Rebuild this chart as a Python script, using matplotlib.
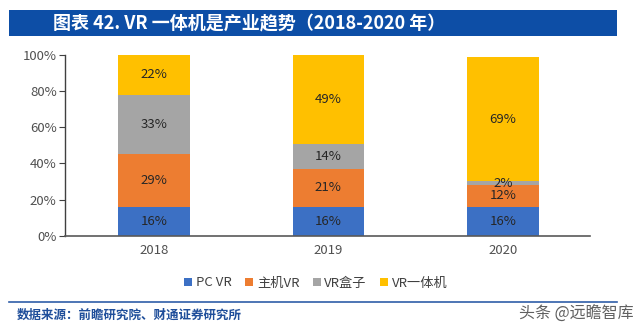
import matplotlib
matplotlib.use("Agg")
import matplotlib.pyplot as plt
from matplotlib.patches import Rectangle, Patch
from matplotlib.lines import Line2D
import numpy as np

plt.rcParams['font.family'] = ['Noto Sans CJK SC', 'DejaVu Sans']

# datos
years = ['2018', '2019', '2020']
series_names = ['PC VR', '主机VR', 'VR盒子', 'VR一体机']
pc_vr = [16, 16, 16]
zhuji_vr = [29, 21, 12]
vr_hezi = [33, 14, 2]
vr_yitiji = [22, 49, 69]
colors = ['#3C70C4', '#ED7D31', '#A5A5A5', '#FFC000']
yticks = [0, 20, 40, 60, 80, 100]

W, H = 640, 331
fig = plt.figure(figsize=(W / 100, H / 100), dpi=100)
fig.patch.set_facecolor('white')

# banda del titulo
fig.patches.append(Rectangle((9 / W, 1 - 36 / H), (617 - 9) / W, 26 / H,
                             transform=fig.transFigure, facecolor='#0D4EA6',
                             edgecolor='none', zorder=0))
fig.text(53 / W, 1 - 23.5 / H, '图表 42. VR 一体机是产业趋势（2018-2020 年）',
         color='white', fontsize=13, fontweight='bold', va='center', ha='left')

ax = fig.add_axes([65 / W, (H - 235.7) / H, (590 - 65) / W, (235.7 - 55) / H])

x = np.arange(len(years))
stack = [pc_vr, zhuji_vr, vr_hezi, vr_yitiji]
bottom = np.zeros(len(years))
for vals, col in zip(stack, colors):
    vals = np.array(vals, dtype=float)
    ax.bar(x, vals, 0.41, bottom=bottom, color=col, edgecolor='none', zorder=2)
    for xi, b, v in zip(x, bottom, vals):
        ax.text(xi, b + v / 2, f'{int(v)}%', ha='center', va='center',
                fontsize=9.5, color='#262626', zorder=3)
    bottom += vals

ax.set_xlim(-0.51, 2.5)
ax.set_ylim(0, 100)
ax.set_yticks(yticks)
ax.set_yticklabels([f'{t}%' for t in yticks])
ax.set_xticks(x)
ax.set_xticklabels(years)
ax.tick_params(axis='y', labelsize=9.5, labelcolor='#505050', length=4,
               color='#404040', direction='out', pad=2)
ax.tick_params(axis='x', labelsize=9.5, labelcolor='#505050', length=0, pad=6)
for s in ['top', 'right']:
    ax.spines[s].set_visible(False)
ax.spines['left'].set_color('#404040')
ax.spines['bottom'].set_color('#595959')
ax.spines['left'].set_linewidth(1.0)
ax.spines['bottom'].set_linewidth(1.2)

# leyenda
handles = [Patch(facecolor=c, edgecolor='none') for c in colors]
fig.legend(handles, series_names, loc='center', bbox_to_anchor=(316 / W, 1 - 283 / H),
           ncol=4, frameon=False, fontsize=9.5, handlelength=0.6, handleheight=0.6,
           handletextpad=0.3, columnspacing=1.0, labelcolor='#404040')

# linea inferior y fuente
fig.add_artist(Line2D([9 / W, 617 / W], [1 - 302 / H, 1 - 302 / H],
                      transform=fig.transFigure, color='#2F5DA8', lw=1.2))
fig.text(17 / W, 1 - 315 / H, '数据来源：前瞻研究院、财通证券研究所',
         color='#1F4E9A', fontsize=9, fontweight='bold', va='center', ha='left')
fig.text(634 / W, 1 - 314 / H, '头条 @远瞻智库', color='#606060',
         fontsize=11.5, va='center', ha='right')

fig.savefig('out.png', dpi=100)
